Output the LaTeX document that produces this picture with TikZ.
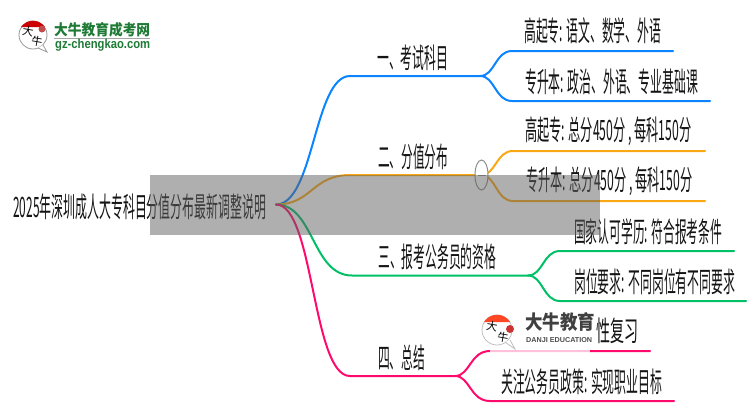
\documentclass[tikz,border=0pt]{standalone}
\usepackage{fontspec}
\usetikzlibrary{shapes.geometric}
\setmainfont{Noto Sans CJK SC}
\newfontfamily\logolatin{Liberation Sans}
\definecolor{cblue}{HTML}{0A84FF}
\definecolor{corange}{HTML}{F9A813}
\definecolor{cgreen}{HTML}{00C066}
\definecolor{cpink}{HTML}{FF0A6C}
\definecolor{cleaf}{HTML}{1E7A35}
\definecolor{cband}{HTML}{606060}
\newcommand{\tx}[2]{\resizebox{#1pt}{1.22\height}{\fontsize{23}{24}\selectfont #2}}
\tikzset{
  txtnode/.style={inner sep=0pt,anchor=west,text=black!92},
  wire/.style={line width=2pt,line cap=round},
  brand/.style={inner sep=0pt,anchor=west},
}
\begin{document}
\begin{tikzpicture}[x=1pt,y=-1pt]
\useasboundingbox (0,0) rectangle (750,410);
% labels
\node[txtnode] (root) at (13,207) {\tx{253}{2025年深圳成人大专科目分值分布最新调整说明}};
\node[txtnode] (b1) at (377,58) {\tx{71}{一、考试科目}};
\node[txtnode] (b2) at (378,157) {\tx{70}{二、分值分布}};
\node[txtnode] (b3) at (378,257) {\tx{118}{三、报考公务员的资格}};
\node[txtnode] (b4) at (378,358) {\tx{47}{四、总结}};
\node[txtnode] (l11) at (524,31) {\tx{137}{高起专: 语文、数学、外语}};
\node[txtnode] (l12) at (525,82) {\tx{173}{专升本: 政治、外语、专业基础课}};
\node[txtnode] (l21) at (525,131) {\tx{166}{高起专: 总分450分 , 每科150分}};
\node[txtnode] (l22) at (526,181) {\tx{166}{专升本: 总分450分 , 每科150分}};
\node[txtnode] (l31) at (574,232) {\tx{148}{国家认可学历: 符合报考条件}};
\node[txtnode] (l32) at (574,282) {\tx{161}{岗位要求: 不同岗位有不同要求}};
\node[txtnode] (l41) at (596,331) {\tx{42}{性复习}};
\node[txtnode] (l42) at (501,382) {\tx{161}{关注公务员政策: 实现职业目标}};
% junctions
\coordinate (out) at (276,204.5);
\coordinate (j1) at (480,76);
\coordinate (j2) at (481,175);
\coordinate (j3) at (528,275.5);
\coordinate (j4) at (455,376);
% connectors
\draw[wire,cblue] (out) .. controls (314,204.5) and (314,76) .. (350,76) -- (j1);
\draw[wire,cblue] (j1) .. controls (495,76) and (495,51) .. (512,51) -- (673,51);
\draw[wire,cblue] (j1) .. controls (495,76) and (495,101) .. (512,101) -- (710,101);
\draw[wire,corange] (out) .. controls (312,204.5) and (312,175) .. (350,175) -- (j2);
\draw[wire,corange] (j2) .. controls (496,175) and (496,151) .. (513,151) -- (705,151);
\draw[wire,corange] (j2) .. controls (496,175) and (496,201) .. (513,201) -- (705,201);
\draw[wire,cgreen] (out) .. controls (314,204.5) and (312,275.5) .. (352,275.5) -- (j3);
\draw[wire,cgreen] (j3) .. controls (543,275.5) and (543,251) .. (560,251) -- (734,251);
\draw[wire,cgreen] (j3) .. controls (543,275.5) and (543,301) .. (560,301) -- (746,301);
\draw[wire,cpink] (out) .. controls (314,204.5) and (312,376) .. (350,376) -- (j4);
\draw[wire,cpink] (j4) .. controls (470,376) and (470,351) .. (490,351) -- (650,351);
\draw[wire,cpink] (j4) .. controls (470,376) and (470,401) .. (490,401) -- (674,401);
% collapse button
\node[draw=black!45,line width=1pt,fill=white,ellipse,inner sep=0pt,minimum width=13pt,minimum height=30pt] (btn) at (481.5,175) {};
\draw[black!45,line width=1pt] (477.5,175) -- (485.5,175);
% grey band
\fill[cband,opacity=.5] (150,175) rectangle (600,235);
% top-left logo
\draw[black!40,fill=white,line width=.8pt] (33,35) circle (14);
\draw[black!40,fill=white,line width=.8pt] (38,48) -- (47,52) -- (43,45);
\fill[red!80!black] (21,27) arc (215:325:14.6) -- cycle;
\fill[red!65!black!70] (42,29) circle (3.5);
\node[inner sep=0pt,rotate=-10] (lg1) at (28,31) {\fontsize{11}{11}\selectfont 大};
\node[inner sep=0pt,rotate=-10] (lg2) at (37,41) {\fontsize{11}{11}\selectfont 牛};
\node[brand,text=cleaf] (lg3) at (54,29.5) {\resizebox{96pt}{13pt}{\fontseries{b}\selectfont 大牛教育成考网}};
\draw[black!35,line width=1pt] (54,38.5) -- (150,38.5);
\node[brand,text=cleaf] (lg4) at (55,45) {\resizebox{95pt}{9.5pt}{\logolatin\bfseries gz-chengkao.com}};
% lower watermark
\fill[white,opacity=.75] (490,349) rectangle (590,353);
\fill[white,opacity=.8] (483,312) rectangle (596,347);
\draw[black!25,fill=white,line width=.8pt] (497,330) circle (15);
\draw[black!25,fill=white,line width=.8pt] (505,342) -- (515,349) -- (510,340);
\fill[red!70!orange!85] (484,322) arc (212:328:15.4) -- cycle;
\fill[red!75!black!80] (510,329) circle (4);
\node[inner sep=0pt,rotate=-10] (wm1) at (492,326) {\fontsize{11}{11}\selectfont 大};
\node[inner sep=0pt,rotate=-10] (wm2) at (503,337) {\fontsize{11}{11}\selectfont 牛};
\node[brand,text=black!75] (wm3) at (525,322) {\resizebox{70pt}{17pt}{\fontseries{b}\selectfont 大牛教育}};
\node[brand,text=black!70] (wm4) at (526,340.5) {\resizebox{66pt}{5pt}{\logolatin\bfseries DANJI EDUCATION}};
\end{tikzpicture}
\end{document}
